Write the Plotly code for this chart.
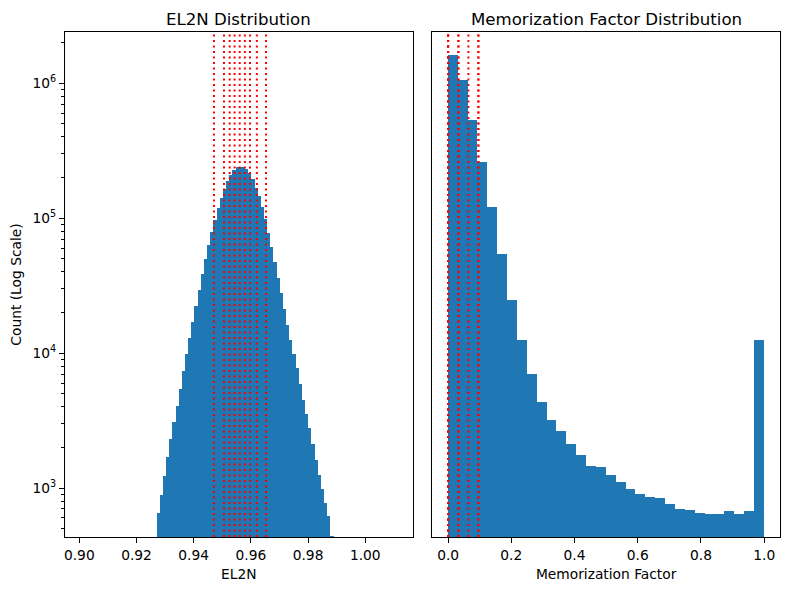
import numpy as np
import plotly.graph_objects as go

# ---------------- data ----------------
# EL2N histogram: 100 equal bins between data min and max; only bins 24..79 rise above the axis floor
el2n_min = 0.9005
el2n_max = 1.011
el2n_nbins = 100
el2n_first_bin = 24
el2n_counts = [653, 891, 1233, 1706, 2318, 3097, 4070, 5445, 7396, 9885,
               12980, 17060, 22400, 29420, 38650, 49980, 63430, 79220, 96680, 119200,
               141400, 165700, 188900, 209300, 227900, 241200, 241200, 238600, 230600, 216600,
               195500, 167600, 146300, 121300, 98300, 78200, 61300, 47460, 36130, 27980,
               21290, 16200, 12550, 9885, 7780, 5927, 4509, 3550, 2797, 2128,
               1620, 1255, 988, 778, 624, 443]
el2n_percentiles = [0.9471, 0.9506, 0.9526, 0.9543, 0.9561, 0.9579, 0.9597, 0.9621, 0.9653]

# Memorization factor histogram: 32 equal bins on [0, 1]
mem_min = 0.0
mem_max = 1.0
mem_nbins = 32
mem_counts = [1620000, 1060000, 535000, 261000, 121000, 54500, 24800, 12600, 7030, 4360,
              3210, 2660, 2130, 1770, 1460, 1440, 1250, 1110, 988, 907,
              862, 850, 766, 703, 690, 657, 646, 646, 680, 646,
              680, 12600]
mem_percentiles = [0.0, 0.0, 0.0, 0.0, 0.0326, 0.0326, 0.0642, 0.0958, 0.0958]

y_ticks = [1e3, 1e4, 1e5, 1e6]
y_tick_text = ["10<sup>3</sup>", "10<sup>4</sup>", "10<sup>5</sup>", "10<sup>6</sup>"]

# ---------------- build ----------------
BLUE = "#1f77b4"
FONT = "DejaVu Sans"
TICK_SIZE = 13.8
TITLE_SIZE = 16.6

el2n_edges = np.linspace(el2n_min, el2n_max, el2n_nbins + 1)
el2n_w = el2n_edges[1] - el2n_edges[0]
el2n_x = (el2n_edges[el2n_first_bin:el2n_first_bin + len(el2n_counts)] + el2n_w / 2)

mem_edges = np.linspace(mem_min, mem_max, mem_nbins + 1)
mem_w = mem_edges[1] - mem_edges[0]
mem_x = mem_edges[:-1] + mem_w / 2

fig = go.Figure()
fig.add_trace(go.Bar(x=el2n_x, y=el2n_counts, width=el2n_w, marker=dict(color=BLUE, line=dict(width=0)),
                     xaxis="x", yaxis="y", showlegend=False))
fig.add_trace(go.Bar(x=mem_x, y=mem_counts, width=mem_w, marker=dict(color=BLUE, line=dict(width=0)),
                     xaxis="x2", yaxis="y2", showlegend=False))

shapes = []
for v in el2n_percentiles:
    shapes.append(dict(type="line", xref="x", yref="y domain", x0=v, x1=v, y0=0, y1=1,
                       line=dict(color="red", width=2, dash="2px,3.5px")))
for v in mem_percentiles:
    shapes.append(dict(type="line", xref="x2", yref="y2 domain", x0=v, x1=v, y0=0, y1=1,
                       line=dict(color="red", width=2, dash="2px,3.5px")))

minor_vals = [k * 10 ** n for n in range(2, 7) for k in range(2, 10)]

axis_common = dict(showline=True, mirror=True, linecolor="black", linewidth=1,
                   ticks="outside", ticklen=5, tickwidth=1, tickcolor="black",
                   showgrid=False, zeroline=False,
                   tickfont=dict(family=FONT, size=TICK_SIZE, color="black"))

# page body has an 8px offset, so the figure is drawn 8px smaller and margins reduced accordingly
fig.update_layout(
    width=782, height=582,
    margin=dict(l=57, r=10, t=24, b=53),
    paper_bgcolor="white", plot_bgcolor="white",
    bargap=0, barmode="overlay",
    font=dict(family=FONT, color="black"),
    shapes=shapes,
    xaxis=dict(domain=[0, 0.4863], range=[0.895, 1.0166], tickmode="array",
               tickvals=[0.90, 0.92, 0.94, 0.96, 0.98, 1.00],
               ticktext=["0.90", "0.92", "0.94", "0.96", "0.98", "1.00"],
               title=dict(text="EL2N", font=dict(family=FONT, size=TICK_SIZE), standoff=7),
               **axis_common),
    xaxis2=dict(domain=[0.5137, 1], range=[-0.05, 1.05], tickmode="array",
                tickvals=[0.0, 0.2, 0.4, 0.6, 0.8, 1.0],
                ticktext=["0.0", "0.2", "0.4", "0.6", "0.8", "1.0"],
                title=dict(text="Memorization Factor", font=dict(family=FONT, size=TICK_SIZE), standoff=7),
                **axis_common),
    yaxis=dict(type="log", range=[2.637, 6.38], tickmode="array", tickvals=y_ticks, ticktext=y_tick_text,
               minor=dict(tickmode="array", tickvals=minor_vals, ticks="outside", ticklen=3,
                          tickcolor="black", tickwidth=0.8, showgrid=False),
               title=dict(text="Count (Log Scale)", font=dict(family=FONT, size=TICK_SIZE), standoff=12),
               automargin=False,
               **axis_common),
    yaxis2=dict(type="log", range=[2.637, 6.38], anchor="x2", matches="y",
                showline=True, mirror=True, linecolor="black", linewidth=1,
                showticklabels=False, ticks="", showgrid=False, zeroline=False),
    annotations=[
        dict(text="EL2N Distribution", x=0.4863 / 2, y=1, xref="paper", yref="paper",
             xanchor="center", yanchor="bottom", yshift=1, showarrow=False,
             font=dict(family=FONT, size=TITLE_SIZE, color="black")),
        dict(text="Memorization Factor Distribution", x=(0.5137 + 1) / 2, y=1, xref="paper", yref="paper",
             xanchor="center", yanchor="bottom", yshift=1, showarrow=False,
             font=dict(family=FONT, size=TITLE_SIZE, color="black")),
    ],
)

fig.write_html("out.html")
